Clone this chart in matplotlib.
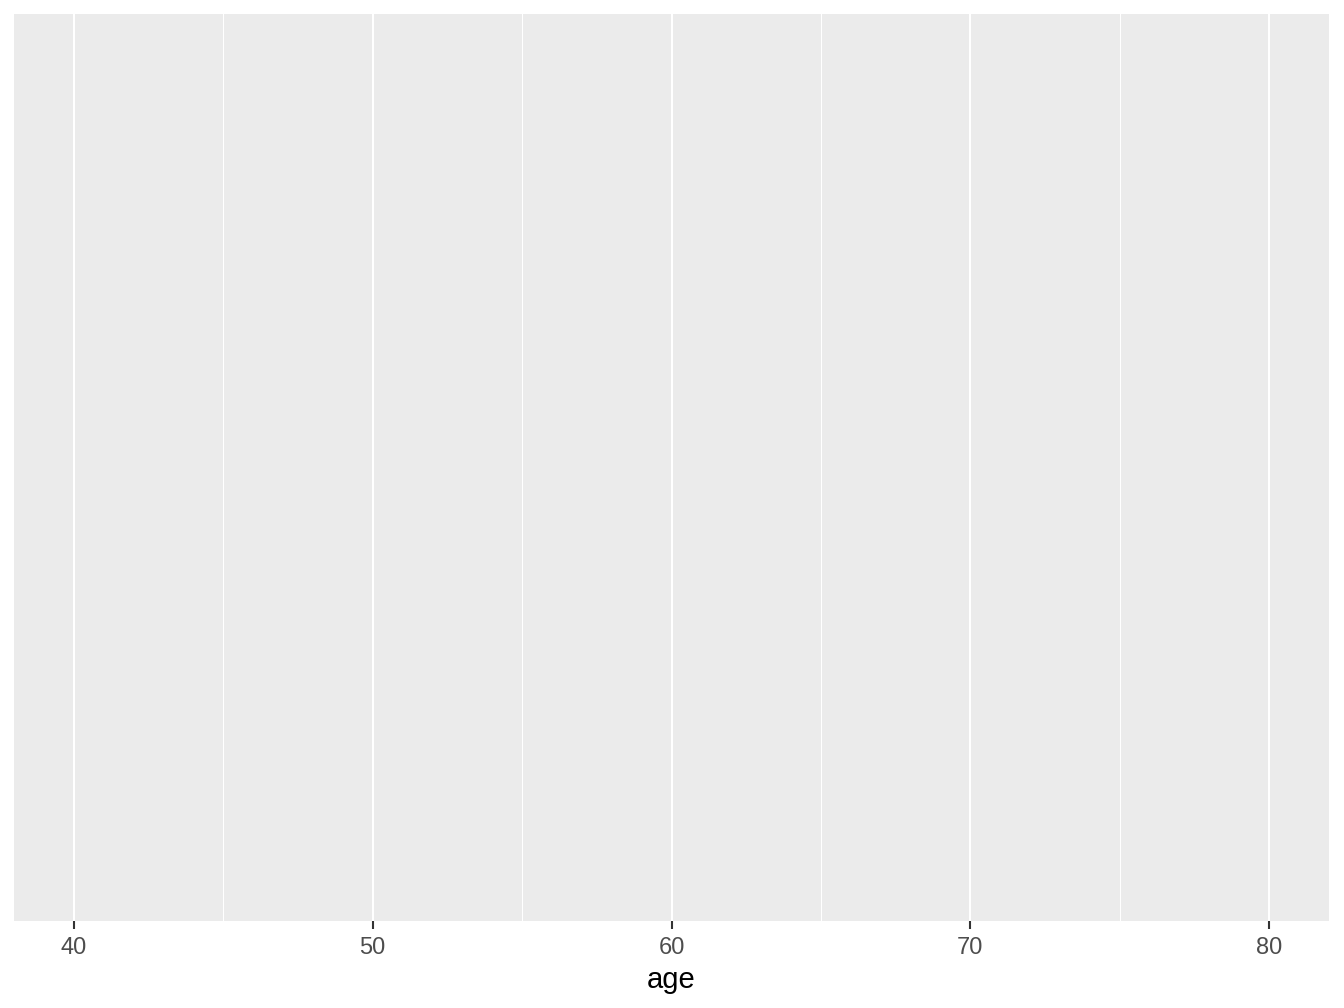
import matplotlib
matplotlib.use('Agg')
import matplotlib.pyplot as plt
from matplotlib.ticker import MultipleLocator

# empty ggplot-style panel, only the age axis is mapped
age_limits = [40, 80]
age_ticks = [40, 50, 60, 70, 80]
age_tick_labels = ['40', '50', '60', '70', '80']
x_label = 'age'

plt.rcParams['font.family'] = ['Liberation Sans', 'DejaVu Sans']

fig = plt.figure(figsize=(13.44, 10.08), dpi=100)
W, H = 1344, 1008
left, right, top, bottom = 14, 1329, 14, 921
ax = fig.add_axes([left / W, 1 - bottom / H, (right - left) / W, (bottom - top) / H])

ax.set_facecolor('#EBEBEB')
for s in ax.spines.values():
    s.set_visible(False)

pad = (age_limits[1] - age_limits[0]) * 0.05
ax.set_xlim(age_limits[0] - pad, age_limits[1] + pad)
ax.set_ylim(0, 1)

ax.set_xticks(age_ticks)
ax.set_xticklabels(age_tick_labels)
ax.xaxis.set_minor_locator(MultipleLocator(5))
ax.set_yticks([])

ax.grid(which='major', axis='x', color='white', linewidth=1.5)
ax.grid(which='minor', axis='x', color='white', linewidth=0.75)
ax.set_axisbelow(True)

ax.tick_params(axis='x', which='major', length=5.5, width=1.5, color='#333333',
               labelsize=17, labelcolor='#4D4D4D', pad=6)
ax.tick_params(axis='x', which='minor', length=0)

ax.set_xlabel(x_label, fontsize=21, color='black', labelpad=5)

fig.savefig('out.png', dpi=100)
